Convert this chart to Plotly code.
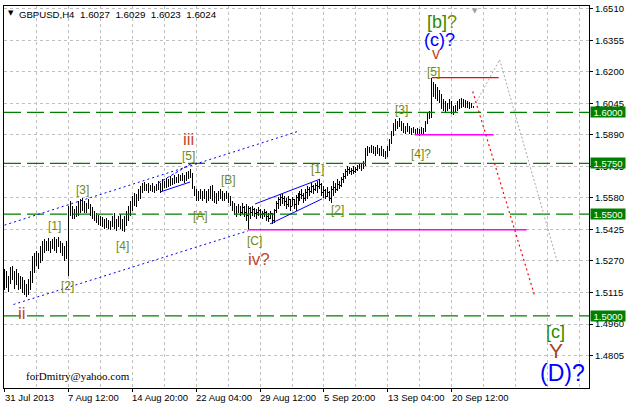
import plotly.graph_objects as go

# ---------------- data (GBPUSD H4) ----------------
highs = [
1.5232, 1.5222, 1.5198, 1.5242, 1.5247, 1.5222, 1.5232, 1.5213, 1.5198, 1.5193,
1.5174, 1.5159, 1.5183, 1.5222, 1.5296, 1.5310, 1.5320, 1.5310, 1.5345, 1.5369,
1.5379, 1.5369, 1.5384, 1.5369, 1.5379, 1.5389, 1.5379, 1.5389, 1.5369, 1.5359,
1.5345, 1.5369, 1.5540, 1.5565, 1.5540, 1.5526, 1.5540, 1.5565, 1.5575, 1.5579,
1.5565, 1.5555, 1.5575, 1.5550, 1.5535, 1.5516, 1.5506, 1.5496, 1.5491, 1.5487,
1.5477, 1.5482, 1.5472, 1.5467, 1.5491, 1.5506, 1.5477, 1.5491, 1.5501, 1.5477,
1.5491, 1.5516, 1.5540, 1.5565, 1.5589, 1.5604, 1.5599, 1.5623, 1.5638, 1.5653,
1.5658, 1.5648, 1.5653, 1.5643, 1.5653, 1.5638, 1.5648, 1.5663, 1.5653, 1.5672,
1.5663, 1.5677, 1.5672, 1.5687, 1.5677, 1.5692, 1.5682, 1.5697, 1.5692, 1.5702,
1.5692, 1.5707, 1.5711, 1.5721, 1.5702, 1.5638, 1.5623, 1.5614, 1.5623, 1.5614,
1.5623, 1.5614, 1.5623, 1.5638, 1.5643, 1.5614, 1.5604, 1.5614, 1.5623, 1.5614,
1.5604, 1.5614, 1.5604, 1.5589, 1.5565, 1.5555, 1.5540, 1.5550, 1.5540, 1.5555,
1.5540, 1.5550, 1.5540, 1.5535, 1.5540, 1.5531, 1.5526, 1.5535, 1.5526, 1.5516,
1.5526, 1.5516, 1.5506, 1.5516, 1.5506, 1.5526, 1.5565, 1.5584, 1.5599, 1.5604,
1.5589, 1.5579, 1.5589, 1.5575, 1.5584, 1.5575, 1.5594, 1.5604, 1.5614, 1.5623,
1.5604, 1.5623, 1.5638, 1.5633, 1.5653, 1.5643, 1.5653, 1.5663, 1.5672, 1.5653,
1.5638, 1.5623, 1.5633, 1.5614, 1.5638, 1.5663, 1.5653, 1.5672, 1.5663, 1.5682,
1.5702, 1.5721, 1.5736, 1.5731, 1.5726, 1.5736, 1.5731, 1.5741, 1.5751, 1.5746,
1.5760, 1.5824, 1.5834, 1.5829, 1.5839, 1.5834, 1.5829, 1.5839, 1.5824, 1.5834,
1.5819, 1.5809, 1.5834, 1.5868, 1.5907, 1.5946, 1.5966, 1.5956, 1.5971, 1.5956,
1.5946, 1.5932, 1.5946, 1.5932, 1.5922, 1.5927, 1.5917, 1.5922, 1.5917, 1.5927,
1.5922, 1.5956, 1.5995, 1.6005, 1.6171, 1.6152, 1.6142, 1.6127, 1.6112, 1.6093,
1.6064, 1.6054, 1.6044, 1.6064, 1.6054, 1.6034, 1.6039, 1.6054, 1.6064, 1.6073,
1.6068, 1.6059, 1.6054, 1.6049, 1.6044, 1.6029]

lows = [
1.5125, 1.5139, 1.5115, 1.5159, 1.5174, 1.5134, 1.5154, 1.5125, 1.5130, 1.5110,
1.5105, 1.5095, 1.5105, 1.5125, 1.5164, 1.5213, 1.5247, 1.5232, 1.5262, 1.5271,
1.5310, 1.5320, 1.5320, 1.5310, 1.5330, 1.5320, 1.5310, 1.5340, 1.5310, 1.5296,
1.5271, 1.5281, 1.5198, 1.5491, 1.5477, 1.5477, 1.5487, 1.5491, 1.5506, 1.5516,
1.5506, 1.5506, 1.5526, 1.5491, 1.5477, 1.5467, 1.5457, 1.5447, 1.5443, 1.5438,
1.5428, 1.5433, 1.5428, 1.5423, 1.5438, 1.5428, 1.5418, 1.5438, 1.5428, 1.5418,
1.5413, 1.5443, 1.5467, 1.5491, 1.5516, 1.5540, 1.5535, 1.5565, 1.5575, 1.5604,
1.5614, 1.5614, 1.5604, 1.5614, 1.5609, 1.5604, 1.5614, 1.5619, 1.5604, 1.5614,
1.5628, 1.5628, 1.5633, 1.5638, 1.5643, 1.5648, 1.5653, 1.5653, 1.5663, 1.5663,
1.5653, 1.5663, 1.5672, 1.5677, 1.5623, 1.5589, 1.5565, 1.5565, 1.5575, 1.5565,
1.5575, 1.5555, 1.5565, 1.5575, 1.5565, 1.5555, 1.5550, 1.5565, 1.5575, 1.5565,
1.5565, 1.5575, 1.5555, 1.5540, 1.5516, 1.5496, 1.5487, 1.5506, 1.5491, 1.5501,
1.5487, 1.5467, 1.5423, 1.5477, 1.5491, 1.5487, 1.5477, 1.5491, 1.5482, 1.5477,
1.5487, 1.5467, 1.5462, 1.5477, 1.5452, 1.5457, 1.5506, 1.5526, 1.5540, 1.5550,
1.5540, 1.5526, 1.5535, 1.5516, 1.5540, 1.5526, 1.5516, 1.5545, 1.5565, 1.5575,
1.5555, 1.5565, 1.5575, 1.5589, 1.5604, 1.5599, 1.5614, 1.5604, 1.5623, 1.5589,
1.5579, 1.5575, 1.5584, 1.5565, 1.5555, 1.5589, 1.5604, 1.5614, 1.5623, 1.5633,
1.5653, 1.5672, 1.5687, 1.5697, 1.5692, 1.5697, 1.5702, 1.5711, 1.5721, 1.5711,
1.5721, 1.5736, 1.5785, 1.5799, 1.5799, 1.5795, 1.5785, 1.5799, 1.5785, 1.5785,
1.5780, 1.5770, 1.5785, 1.5809, 1.5848, 1.5883, 1.5907, 1.5917, 1.5932, 1.5907,
1.5897, 1.5892, 1.5907, 1.5892, 1.5888, 1.5897, 1.5888, 1.5892, 1.5883, 1.5897,
1.5892, 1.5907, 1.5946, 1.5966, 1.5971, 1.6078, 1.6064, 1.6054, 1.6044, 1.6015,
1.6005, 1.5995, 1.6005, 1.6015, 1.5990, 1.5985, 1.5995, 1.6005, 1.6015, 1.6024,
1.6029, 1.6024, 1.6020, 1.6015, 1.6020, 1.6023]

closes = [
1.5183, 1.5159, 1.5174, 1.5222, 1.5198, 1.5164, 1.5208, 1.5159, 1.5174, 1.5134,
1.5125, 1.5115, 1.5159, 1.5198, 1.5281, 1.5262, 1.5296, 1.5281, 1.5330, 1.5345,
1.5359, 1.5345, 1.5369, 1.5330, 1.5359, 1.5369, 1.5340, 1.5369, 1.5335, 1.5320,
1.5296, 1.5310, 1.5526, 1.5516, 1.5506, 1.5496, 1.5526, 1.5545, 1.5560, 1.5550,
1.5540, 1.5535, 1.5555, 1.5516, 1.5496, 1.5487, 1.5477, 1.5467, 1.5457, 1.5467,
1.5447, 1.5457, 1.5443, 1.5438, 1.5477, 1.5457, 1.5443, 1.5467, 1.5447, 1.5433,
1.5477, 1.5496, 1.5526, 1.5540, 1.5575, 1.5565, 1.5584, 1.5614, 1.5623, 1.5638,
1.5633, 1.5623, 1.5638, 1.5628, 1.5623, 1.5619, 1.5638, 1.5643, 1.5623, 1.5658,
1.5648, 1.5663, 1.5648, 1.5672, 1.5663, 1.5677, 1.5672, 1.5687, 1.5677, 1.5692,
1.5672, 1.5697, 1.5702, 1.5711, 1.5633, 1.5599, 1.5584, 1.5589, 1.5604, 1.5584,
1.5609, 1.5579, 1.5599, 1.5614, 1.5584, 1.5575, 1.5584, 1.5599, 1.5594, 1.5589,
1.5579, 1.5599, 1.5570, 1.5550, 1.5531, 1.5516, 1.5516, 1.5535, 1.5506, 1.5531,
1.5506, 1.5491, 1.5526, 1.5506, 1.5521, 1.5501, 1.5506, 1.5516, 1.5496, 1.5501,
1.5506, 1.5487, 1.5477, 1.5501, 1.5467, 1.5516, 1.5550, 1.5570, 1.5584, 1.5575,
1.5560, 1.5545, 1.5570, 1.5540, 1.5570, 1.5545, 1.5584, 1.5589, 1.5599, 1.5594,
1.5575, 1.5604, 1.5623, 1.5609, 1.5638, 1.5619, 1.5643, 1.5638, 1.5648, 1.5604,
1.5614, 1.5589, 1.5604, 1.5579, 1.5623, 1.5633, 1.5623, 1.5648, 1.5643, 1.5672,
1.5687, 1.5711, 1.5721, 1.5711, 1.5716, 1.5711, 1.5721, 1.5731, 1.5736, 1.5726,
1.5746, 1.5809, 1.5819, 1.5809, 1.5824, 1.5809, 1.5799, 1.5829, 1.5799, 1.5809,
1.5795, 1.5785, 1.5824, 1.5848, 1.5892, 1.5932, 1.5946, 1.5932, 1.5956, 1.5922,
1.5917, 1.5907, 1.5927, 1.5902, 1.5907, 1.5917, 1.5897, 1.5907, 1.5892, 1.5917,
1.5907, 1.5946, 1.5985, 1.5990, 1.6142, 1.6103, 1.6112, 1.6078, 1.6068, 1.6034,
1.6024, 1.6015, 1.6029, 1.6044, 1.6005, 1.6015, 1.6024, 1.6039, 1.6049, 1.6059,
1.6054, 1.6039, 1.6034, 1.6029, 1.6034, 1.6024]

first_open = 1.5200
last_open = 1.6027

price_ticks = [1.6510, 1.6355, 1.6200, 1.6045, 1.5890, 1.5735, 1.5580,
               1.5425, 1.5270, 1.5115, 1.4960, 1.4805]
time_tick_bars = [0, 32, 64, 96, 128, 160, 192, 224]
time_tick_labels = ["31 Jul 2013", "7 Aug 12:00", "14 Aug 20:00", "22 Aug 04:00",
                    "29 Aug 12:00", "5 Sep 20:00", "13 Sep 04:00", "20 Sep 12:00"]
levels = [1.6000, 1.5750, 1.5500, 1.5000]
level_labels = ["1.6000", "1.5750", "1.5500", "1.5000"]
symbol = "GBPUSD,H4"
last_quote = ["1.6027", "1.6029", "1.6023", "1.6024"]

# ---------------- build ----------------
n = len(closes)
bars = list(range(n))
opens = [first_open]
for i in range(1, n):
    opens.append(min(max(closes[i - 1], lows[i]), highs[i]))
opens[-1] = last_open

X0, X1 = -0.25, 292.75
Y0, Y1 = 1.46454, 1.65232

fig = go.Figure()
fig.add_trace(go.Ohlc(
    x=bars, open=opens, high=highs, low=lows, close=closes,
    increasing=dict(line=dict(color="black", width=1)),
    decreasing=dict(line=dict(color="black", width=1)),
    tickwidth=0.3, hoverinfo="skip", showlegend=False))

shapes = []
# green horizontal levels
for lv in levels:
    shapes.append(dict(type="line", xref="paper", x0=0, x1=1, yref="y", y0=lv, y1=lv,
                       line=dict(color="#008000", width=1.3, dash="17px,6px"), layer="above"))

def seg(x0, y0, x1, y1, color, width=1, dash="solid"):
    shapes.append(dict(type="line", xref="x", yref="y", x0=x0, y0=y0, x1=x1, y1=y1,
                       line=dict(color=color, width=width, dash=dash), layer="above"))

BLUE = "#0000ff"
# long channel (dotted)
seg(0, 1.5446, 147, 1.5907, BLUE, 1, "2px,3px")
seg(4.5, 1.5056, 122, 1.5418, BLUE, 1, "2px,3px")
# wedge near iii
seg(77, 1.5653, 94, 1.5751, BLUE, 1, "3px,2px")
seg(78, 1.5609, 93, 1.5658, BLUE, 1)
# wedge before [1]
seg(125.5, 1.5550, 158, 1.5672, BLUE, 1)
seg(133, 1.5452, 159, 1.5575, BLUE, 1)
# magenta supports
seg(122, 1.5423, 261.5, 1.5423, "#ff00ff", 1.6)
seg(205.5, 1.5890, 245, 1.5890, "#ff00ff", 1.6)
# red resistance
seg(214, 1.6171, 247.5, 1.6171, "#ff0000", 1.3)
# forecast paths
seg(234.5, 1.6103, 265.5, 1.5100, "#ff0000", 1.2, "2px,3px")
seg(236.5, 1.6054, 248, 1.6259, "#a8a8a8", 1, "2px,2px")
seg(248, 1.6259, 277, 1.5262, "#a8a8a8", 1, "2px,2px")

ann = []
OL = "#74890f"
GR = "#2e8b00"
RB = "#c04a2a"
FONT = "Liberation Sans, Arial, sans-serif"

def lab(x, y, t, color, size):
    ann.append(dict(x=x, y=y, xref="x", yref="y", text=t, showarrow=False,
                    font=dict(family=FONT, size=size, color=color),
                    xanchor="center", yanchor="middle"))

lab(25, 1.5443, "[1]", OL, 12)
lab(31.7, 1.5149, "[2]", OL, 12)
lab(39, 1.5619, "[3]", OL, 12)
lab(59, 1.5345, "[4]", OL, 12)
lab(92, 1.5785, "[5]", OL, 12)
lab(92, 1.5868, "iii", RB, 17)
lab(98, 1.5491, "[A]", OL, 12)
lab(112, 1.5667, "[B]", OL, 12)
lab(125, 1.5369, "[C]", OL, 12)
lab(127.5, 1.5276, "iv?", RB, 17)
lab(9, 1.5012, "ii", RB, 17)
lab(157, 1.5721, "[1]", OL, 12)
lab(167, 1.5521, "[2]", OL, 12)
lab(199, 1.6010, "[3]", OL, 12)
lab(208.5, 1.5795, "[4]?", OL, 12)
lab(215, 1.6200, "[5]", OL, 12)
lab(216, 1.6290, "v", RB, 16)
lab(218, 1.6357, "(c)?", BLUE, 18)
lab(219, 1.6445, f"<span style='color:{GR}'>[b]</span>?", OL, 18)
lab(276, 1.4919, f"<span style='color:{GR}'>[c]</span>", OL, 18)
lab(276, 1.4831, "Y", "#a8402a", 21)
lab(279.5, 1.4719, "(D)?", BLUE, 23)

# email watermark
ann.append(dict(x=10, y=1.4705, xref="x", yref="y", text="forDmitry@yahoo.com",
                showarrow=False, xanchor="left", yanchor="middle",
                font=dict(family="Liberation Serif, Times New Roman, serif", size=11, color="black")))

# header
ann.append(dict(x=0, y=1, xref="paper", yref="paper", text="▼", showarrow=False,
                xanchor="left", yanchor="top", xshift=2, yshift=-1,
                font=dict(family="DejaVu Sans", size=7, color="black")))
ann.append(dict(x=0, y=1, xref="paper", yref="paper", text=symbol, showarrow=False,
                xanchor="left", yanchor="top", xshift=13, yshift=-1,
                font=dict(family=FONT, size=9.6, color="black")))
ann.append(dict(x=0, y=1, xref="paper", yref="paper",
                text="&nbsp;&nbsp;".join(last_quote), showarrow=False,
                xanchor="left", yanchor="top", xshift=74, yshift=-1,
                font=dict(family=FONT, size=9.8, color="black")))

# time labels (left aligned on ticks)
for b, t in zip(time_tick_bars, time_tick_labels):
    ann.append(dict(x=b, y=0, xref="x", yref="paper", text=t, showarrow=False,
                    xanchor="left", yanchor="top", xshift=-2, yshift=-2,
                    font=dict(family=FONT, size=9.5, color="black")))

# level labels in price scale
for lv, t in zip(levels, level_labels):
    ann.append(dict(x=1, y=lv, xref="paper", yref="y", text=t, showarrow=False,
                    xanchor="left", yanchor="middle", xshift=1, width=34, height=10,
                    bgcolor="#008000", borderpad=0,
                    font=dict(family=FONT, size=9.5, color="white")))

# chart shift marker
ann.append(dict(x=235.5, y=1, xref="x", yref="paper", text="▼", showarrow=False,
                xanchor="center", yanchor="top", yshift=1,
                font=dict(family="DejaVu Sans", size=7, color="#a0a0a0")))

grid = "#c0c0c0"
fig.update_layout(
    width=628, height=406,
    margin=dict(l=3, r=39, t=4, b=18),
    paper_bgcolor="white", plot_bgcolor="white",
    shapes=shapes, annotations=ann,
    showlegend=False,
    xaxis=dict(range=[X0, X1], rangeslider=dict(visible=False),
               tickmode="array", tickvals=time_tick_bars, showticklabels=False,
               ticks="outside", ticklen=3, tickcolor="black",
               showgrid=True, gridcolor=grid, griddash="3px,3px", gridwidth=1,
               minor=dict(tickmode="array", tickvals=list(range(16, 292, 16)),
                          showgrid=True, gridcolor=grid, griddash="3px,3px", ticks=""),
               showline=True, linecolor="black", linewidth=1, mirror=True,
               zeroline=False, fixedrange=True),
    yaxis=dict(range=[Y0, Y1], side="right", tickmode="array", tickvals=price_ticks,
               ticktext=[f"{v:.4f}" for v in price_ticks],
               ticks="outside", ticklen=3, tickcolor="black",
               tickfont=dict(family=FONT, size=9.5, color="black"),
               showgrid=True, gridcolor=grid, griddash="3px,3px", gridwidth=1,
               showline=True, linecolor="black", linewidth=1, mirror=True,
               zeroline=False, fixedrange=True),
)

post = (
    "document.body.style.margin='0';document.body.style.overflow='hidden';"
    "document.querySelectorAll('.ohlclayer path, .trace.ohlc path').forEach("
    "function(p){p.style.shapeRendering='crispEdges';});"
)
fig.write_html("out.html", config={"displayModeBar": False, "staticPlot": True},
               post_script=post)
